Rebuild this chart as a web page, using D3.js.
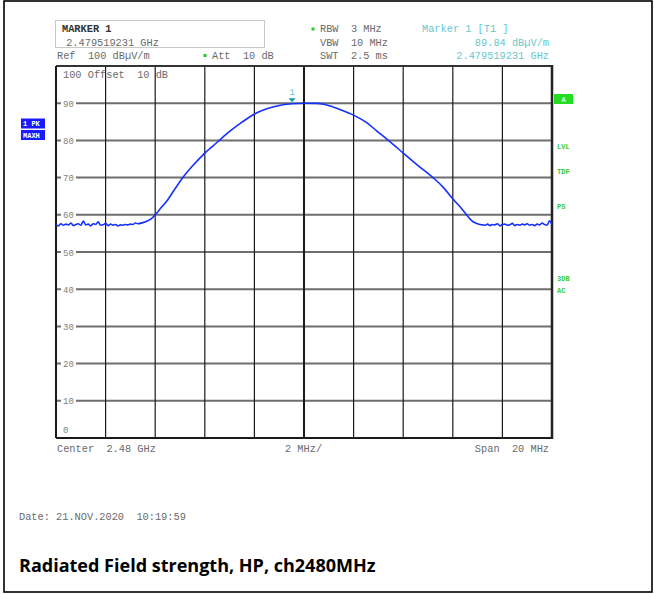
<!DOCTYPE html>
<html><head><meta charset="utf-8">
<script src="https://cdn.jsdelivr.net/npm/d3@7"></script>
<style>body{margin:0;background:#fff}svg{display:block}</style>
</head><body>
<svg id="c" width="655" height="594"></svg>
<script>
// ---- data ----
const xDomainMHz = [-10, 10];           // offset from centre 2.48 GHz
const yDomain = [0, 100];               // dBµV/m
const yTickValues = [10, 20, 30, 40, 50, 60, 70, 80, 90];
const xGridValues = [-10, -8, -6, -4, -2, 0, 2, 4, 6, 8, 10];

// noise floor, left side: start -10 MHz, step 0.1 MHz
const leftFloorStart = -10, floorStep = 0.1;
const leftFloor = [57.4, 57.0, 57.6, 57.2, 57.5, 57.3, 57.8, 57.1, 57.4, 57.6,
                   57.2, 58.3, 57.3, 57.5, 57.0, 57.6, 57.4, 58.1, 57.2, 57.3,
                   57.7, 57.1, 57.5, 57.2, 57.4, 57.0, 57.3, 57.2, 57.4, 57.3,
                   57.5, 57.4, 57.8, 57.6];
// main lobe
const lobeFreq  = [-6.5, -6.3, -6.15, -6.0, -5.75, -5.5, -5.2, -4.9, -4.5, -4.0, -3.5, -3.0, -2.5, -2.0, -1.5, -1.0, -0.5, 0.0, 0.5, 0.8, 1.17, 1.5, 2.0, 2.5, 2.94, 3.4, 4.0, 4.56, 5.2, 5.6, 5.97, 6.3, 6.53, 6.8, 7.0, 7.1];
const lobeLevel = [57.9, 58.4, 59.0, 60.0, 62.0, 64.0, 67.0, 69.9, 73.1, 76.6, 79.5, 82.4, 84.9, 87.1, 88.5, 89.4, 89.84, 90.0, 89.95, 89.7, 89.0, 88.2, 86.8, 84.9, 82.5, 80.0, 76.6, 73.4, 70.0, 67.5, 64.5, 62.1, 60.2, 58.2, 57.6, 57.4];
// noise floor, right side: start 7.2 MHz, step 0.1 MHz
const rightFloorStart = 7.2;
const rightFloor = [57.3, 57.2, 57.5, 57.1, 57.4, 57.3, 57.6, 57.0, 57.4, 57.5,
                    57.2, 57.3, 57.7, 57.1, 57.4, 57.2, 57.5, 57.3, 57.6, 57.2,
                    57.4, 57.1, 57.5, 57.3, 57.8, 57.4, 57.2, 58.4, 57.3];
const marker = {freq: -0.48, level: 89.84, label: "1"};

const headerLeft = ["MARKER 1", " 2.479519231 GHz", "Ref  100 dBµV/m"];
const headerMid = ["RBW  3 MHz", "VBW  10 MHz", "SWT  2.5 ms"];
const headerRight = ["Marker 1 [T1 ]", "89.84 dBµV/m", "2.479519231 GHz"];
const sideGreen = [["LVL", 80], ["TDF", 73.5], ["PS", 64], ["3DB", 44.5], ["AC", 41.5]];
const title = "Radiated Field strength, HP, ch2480MHz";
const dateText = "Date: 21.NOV.2020  10:19:59";

// ---- build trace ----
const trace = [];
leftFloor.forEach((v, i) => trace.push([leftFloorStart + i * floorStep, v]));
lobeFreq.forEach((f, i) => trace.push([f, lobeLevel[i]]));
rightFloor.forEach((v, i) => trace.push([rightFloorStart + i * floorStep, v]));

// ---- drawing ----
const svg = d3.select("#c");
const L = 56, R = 552, T = 66, B = 438;
const x = d3.scaleLinear(xDomainMHz, [L, R]);
const y = d3.scaleLinear(yDomain, [B, T]);
const mono = "'Liberation Mono', 'DejaVu Sans Mono', monospace";
const gray = "#6a6a6a";

// outer frame
svg.append("rect").attr("x", 4).attr("y", 1).attr("width", 648).attr("height", 591)
  .attr("fill", "none").attr("stroke", "#000").attr("stroke-width", 1.6);

// marker box
svg.append("rect").attr("x", 55.5).attr("y", 20.5).attr("width", 209).attr("height", 27)
  .attr("fill", "none").attr("stroke", "#c8c8c8").attr("stroke-width", 1);

// header texts
const ht = svg.append("g").attr("font-family", mono).attr("font-size", 10.3).attr("fill", gray);
ht.append("text").attr("x", 62).attr("y", 32).attr("font-weight", "bold").attr("fill", "#333").text(headerLeft[0]);
ht.append("text").attr("x", 60).attr("y", 45.5).style("white-space", "pre").text(headerLeft[1]);
ht.append("text").attr("x", 57).attr("y", 59).style("white-space", "pre").text(headerLeft[2]);
ht.append("text").attr("x", 212).attr("y", 59).style("white-space", "pre").text("Att  10 dB");
headerMid.forEach((t, i) => ht.append("text").attr("x", 320).attr("y", 32 + i * 13.5).style("white-space", "pre").text(t));
ht.append("text").attr("x", 422).attr("y", 32).attr("fill", "#66c8cc").style("white-space", "pre").text(headerRight[0]);
ht.append("text").attr("x", 549).attr("y", 45.5).attr("text-anchor", "end").attr("fill", "#66c8cc").text(headerRight[1]);
ht.append("text").attr("x", 549).attr("y", 59).attr("text-anchor", "end").attr("fill", "#66c8cc").text(headerRight[2]);
// green dots
[[313, 29], [205, 55.5]].forEach(([cx, cy]) =>
  svg.append("rect").attr("x", cx - 1.5).attr("y", cy - 1.5).attr("width", 3).attr("height", 3).attr("fill", "#22cc22"));

// grid: horizontal
const grid = svg.append("g");
grid.selectAll("line.h").data(yTickValues).join("line")
  .attr("x1", L).attr("x2", R).attr("y1", d => y(d)).attr("y2", d => y(d))
  .attr("stroke", "#6e6e6e").attr("stroke-width", 2);
// grid: vertical
grid.selectAll("line.v").data(xGridValues).join("line")
  .attr("x1", d => x(d)).attr("x2", d => x(d)).attr("y1", T).attr("y2", B)
  .attr("stroke", "#1a1a1a").attr("stroke-width", d => d === 0 ? 2 : 1.2);
// plot frame
grid.append("line").attr("x1", L).attr("x2", R).attr("y1", T).attr("y2", T).attr("stroke", "#333").attr("stroke-width", 2);
grid.append("line").attr("x1", L).attr("x2", R).attr("y1", B).attr("y2", B).attr("stroke", "#1a1a1a").attr("stroke-width", 2);
grid.append("line").attr("x1", L).attr("x2", L).attr("y1", T).attr("y2", B).attr("stroke", "#1a1a1a").attr("stroke-width", 2);
grid.append("line").attr("x1", R).attr("x2", R).attr("y1", T - 1).attr("y2", B + 1).attr("stroke", "#222").attr("stroke-width", 2.5);

// y labels with white background
const yl = svg.append("g").attr("font-family", mono).attr("font-size", 9).attr("fill", "#808080");
yTickValues.forEach(v => {
  yl.append("rect").attr("x", 61).attr("y", y(v) - 4).attr("width", 15).attr("height", 8).attr("fill", "#fff");
  yl.append("text").attr("x", 63).attr("y", y(v) + 3.5).text(v);
});
yl.append("text").attr("x", 63).attr("y", y(0) - 5).text("0");
svg.append("text").attr("x", 63).attr("y", 78).attr("font-family", mono).attr("font-size", 10.3)
  .attr("fill", gray).style("white-space", "pre").text("100 Offset  10 dB");

// trace
svg.append("path").datum(trace)
  .attr("d", d3.line().x(d => x(d[0])).y(d => y(d[1])).curve(d3.curveMonotoneX))
  .attr("fill", "none").attr("stroke", "#1530ff").attr("stroke-width", 1.6).attr("stroke-linejoin", "round");

// marker
const mx = x(marker.freq), my = y(90);
svg.append("path").attr("d", `M${mx - 3.5},${my - 5} L${mx + 3.5},${my - 5} L${mx},${my - 1} Z`).attr("fill", "#1a9a9a");
svg.append("text").attr("x", mx).attr("y", my - 8).attr("text-anchor", "middle")
  .attr("font-family", mono).attr("font-size", 9).attr("fill", "#66c8cc").text(marker.label);

// bottom axis labels
const bt = svg.append("g").attr("font-family", mono).attr("font-size", 10.3).attr("fill", gray);
bt.append("text").attr("x", 57).attr("y", 452).style("white-space", "pre").text("Center  2.48 GHz");
bt.append("text").attr("x", 285).attr("y", 452).text("2 MHz/");
bt.append("text").attr("x", 549).attr("y", 452).attr("text-anchor", "end").style("white-space", "pre").text("Span  20 MHz");

// left blue labels
[["1 PK", 118.5], ["MAXH", 130]].forEach(([t, ty]) => {
  svg.append("rect").attr("x", 21).attr("y", ty).attr("width", 24).attr("height", 10).attr("fill", "#1a1aff");
  svg.append("text").attr("x", 23).attr("y", ty + 7.5).attr("font-family", mono).attr("font-size", 7)
    .attr("font-weight", "bold").attr("fill", "#fff").text(t);
});

// right green labels
svg.append("rect").attr("x", 554).attr("y", 94).attr("width", 19).attr("height", 10).attr("fill", "#22dd22");
svg.append("text").attr("x", 563.5).attr("y", 102).attr("text-anchor", "middle").attr("font-family", mono)
  .attr("font-size", 7).attr("font-weight", "bold").attr("fill", "#dfffdf").text("A");
sideGreen.forEach(([t, v]) => svg.append("text").attr("x", 557).attr("y", y(v) + 9)
  .attr("font-family", mono).attr("font-size", 7).attr("font-weight", "bold").attr("fill", "#33cc33").text(t));

// date
svg.append("text").attr("x", 19).attr("y", 520).attr("font-family", mono).attr("font-size", 10.3)
  .attr("fill", gray).style("white-space", "pre").text(dateText);

// title
const tt = svg.append("text").attr("x", 19).attr("y", 572).attr("font-family", "'Open Sans', 'Liberation Sans', sans-serif")
  .attr("font-size", 16).attr("font-weight", "bold").attr("fill", "#000").text(title);
const w = tt.node().getComputedTextLength();
tt.attr("font-size", 16 * 357 / w);
</script>
</body></html>
